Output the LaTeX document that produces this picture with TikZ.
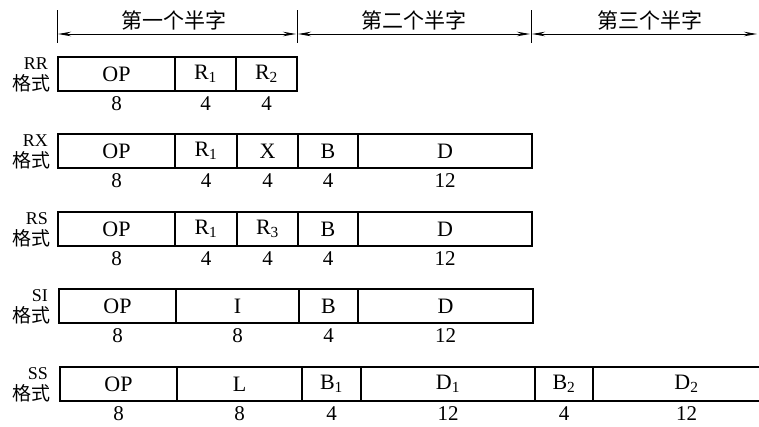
\documentclass[tikz,border=0pt]{standalone}
\usepackage{fontspec}
\setmainfont{Liberation Serif}
\newfontfamily\cjk{Noto Sans CJK SC}
\usetikzlibrary{arrows.meta}

\tikzset{
  field/.style={draw,line width=1.4pt,minimum height=34pt,inner sep=0pt,outer sep=0pt,
    font=\fontsize{22}{22}\selectfont},
  bits/.style={inner sep=0pt,font=\fontsize{21}{21}\selectfont},
  tag/.style={inner sep=0pt,anchor=east,font=\fontsize{18}{18}\selectfont},
  fmt/.style={inner sep=0pt,anchor=east,font=\cjk\fontsize{19}{19}\selectfont},
  half/.style={inner sep=0pt,font=\cjk\fontsize{21}{21}\selectfont},
  dim/.style={line width=0.9pt,{Stealth[length=13pt,width=4.5pt]}-{Stealth[length=13pt,width=4.5pt]}},
}

\begin{document}
\begin{tikzpicture}[x=1pt,y=-1pt]
  \useasboundingbox (0,0) rectangle (759,426);
  \clip (0,0) rectangle (759,426);
  % half-word marks
  \foreach \n/\x in {0/57,1/297,2/531}
    {
      \draw[line width=1pt] (\x,10) -- (\x,43);
      \coordinate (hl\n) at (\x+1,34);
      \coordinate (hr\n) at (\x-1,34);
    }
  \coordinate (hr3) at (757,34);
  \draw[dim] (hl0) -- (hr1);
  \draw[dim] (hl1) -- (hr2);
  \draw[dim] (hl2) -- (hr3);
  \foreach \n/\x/\s in {1/174/第一个半字,2/414/第二个半字,3/650/第三个半字}
    {
      \node[half] (half\n) at (\x,20) {\s};
    }

  % formats
  \foreach \r/\s/\y/\f in {
      rr/RR/74/{58/175/OP/8,175/236/R\textsubscript{1}/4,236/297/R\textsubscript{2}/4},
      rx/RX/151/{58/175/OP/8,175/237/R\textsubscript{1}/4,237/298/X/4,298/358/B/4,358/532/D/12},
      rs/RS/229/{58/175/OP/8,175/237/R\textsubscript{1}/4,237/298/R\textsubscript{3}/4,298/358/B/4,358/532/D/12},
      si/SI/306/{59/176/OP/8,176/299/I/8,299/358/B/4,358/533/D/12},
      ss/SS/384/{60/177/OP/8,177/302/L/8,302/361/B\textsubscript{1}/4,361/535/D\textsubscript{1}/12,535/593/B\textsubscript{2}/4,593/780/D\textsubscript{2}/12}}
    {
      \node[tag] (\r-tag) at (48,\y-10) {\s};
      \node[fmt] (\r-fmt) at (51,\y+9) {格式};
      \foreach \a/\b/\t/\w in \f
        {
          \pgfmathsetmacro\len{\b-\a}
          \node[field,minimum width=\len pt] (\r-\a) at ({(\a+\b)/2},\y) {\t};
          \node[bits] (\r-w\a) at ({(\a+\b)/2},\y+30) {\w};
        }
    }
\end{tikzpicture}
\end{document}
